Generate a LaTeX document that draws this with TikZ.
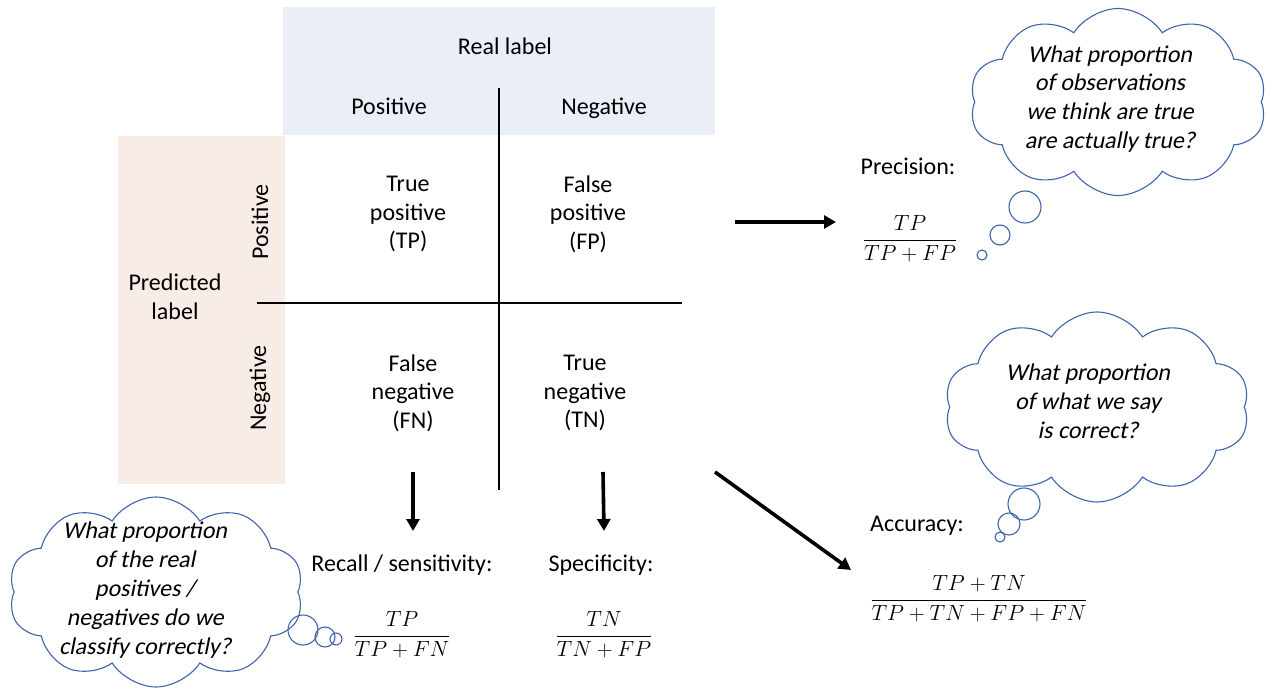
\documentclass[tikz,border=0pt]{standalone}
\usepackage{fix-cm}
\usepackage{amsmath}
\usepackage{fontspec}
\setmainfont{Carlito}
\newfontfamily\slantfont[FakeSlant=0.2]{Carlito}
\usepackage{tikz}
\usetikzlibrary{positioning, shapes.symbols, arrows.meta}
\definecolor{realblue}{HTML}{E9EEF7}
\definecolor{predpink}{HTML}{F8ECE6}
\definecolor{cloudblue}{HTML}{3F64AA}

\begin{document}
\begin{tikzpicture}[x=1pt, y=-1pt,
  every node/.style={font=\fontsize{24}{28.5}\selectfont},
  cell/.style={align=center},
  formula/.style={font=\fontsize{22}{26}\selectfont},
  grid line/.style={line width=1.6pt},
  arrow line/.style={line width=3.6pt, -{Triangle[length=12pt,width=13pt]}},
  thought/.style={cloud, draw=cloudblue, line width=1.1pt, cloud puffs=10,
    cloud puff arc=115, cloud ignores aspect, inner sep=0pt},
  bubble/.style={circle, draw=cloudblue, line width=1.1pt, inner sep=0pt},
  think text/.style={align=center, font=\fontsize{24}{28.8}\selectfont\slantfont}]

\useasboundingbox (0,0) rectangle (1270,690);

\fill[realblue] (283,7) rectangle (715,135);
\fill[predpink] (118,136) rectangle (285,484);

\node (reallab) at (505,46) {Real label};
\node[anchor=base] (realpos) at (389,115) {Positive};
\node[anchor=base] (realneg) at (604,115) {Negative};

\node[cell] (predlab) at (175,297) {Predicted\\label};
\node[rotate=90] (predpos) at (260,222) {Positive};
\node[rotate=90] (predneg) at (260,388) {Negative};

\draw[grid line] (499,88) -- (499,490);
\draw[grid line] (257,303) -- (682,303);

\node[cell] (tp) at (408,214) {True\\positive\\(TP)};
\node[cell] (fp) at (588,214) {False\\positive\\(FP)};
\node[cell] (fn) at (413,393) {False\\negative\\(FN)};
\node[cell] (tn) at (585,393) {True\\negative\\(TN)};

\node (prec) at (908,166) {Precision:};
\node[formula] (precf) at (910,239) {$\dfrac{TP}{TP+FP}$};
\node (rec) at (402,565) {Recall / sensitivity:};
\node[formula] (recf) at (402,635) {$\dfrac{TP}{TP+FN}$};
\node (spec) at (601,565) {Specificity:};
\node[formula] (specf) at (604,635) {$\dfrac{TN}{TN+FP}$};
\node (acc) at (917,526) {Accuracy:};
\node[formula] (accf) at (979,599) {$\dfrac{TP+TN}{TP+TN+FP+FN}$};

\coordinate (fnout) at (413,472);
\coordinate (recin) at (413,531);
\coordinate (tnout) at (603,472);
\coordinate (specin) at (604,531);
\coordinate (fpout) at (735,222);
\coordinate (precin) at (836,222);
\coordinate (tnfar) at (715,472);
\coordinate (accin) at (851,570);

\path[arrow line]
(fnout) edge (recin)
(tnout) edge (specin)
(fpout) edge (precin)
(tnfar) edge (accin)
;

\node[thought, minimum width=297pt, minimum height=187pt] (cloudprec) at (1118,102) {};
\node[think text] (askprec) at (1110,99) {What proportion\\of observations\\we think are true\\are actually true?};
\node[bubble, minimum size=32pt] (tailpa) at (1025,207) {};
\node[bubble, minimum size=20pt] (tailpb) at (1000,235) {};
\node[bubble, minimum size=10pt] (tailpc) at (982,255) {};

\node[thought, minimum width=305pt, minimum height=190pt] (cloudacc) at (1097,407) {};
\node[think text] (askacc) at (1088,401) {What proportion\\of what we say\\is correct?};
\node[bubble, minimum size=32pt] (tailaa) at (1024,504) {};
\node[bubble, minimum size=22pt] (tailab) at (1009,524) {};
\node[bubble, minimum size=10pt] (tailac) at (1000,537) {};

\node[thought, minimum width=295pt, minimum height=190pt] (cloudrec) at (156,592) {};
\node[think text] (askrec) at (145,590) {What proportion\\of the real\\positives /\\negatives do we\\classify correctly?};
\node[bubble, minimum size=30pt] (tailra) at (303,630) {};
\node[bubble, minimum size=20pt] (tailrb) at (325,637) {};
\node[bubble, minimum size=12pt] (tailrc) at (336,639) {};

\end{tikzpicture}
\end{document}
